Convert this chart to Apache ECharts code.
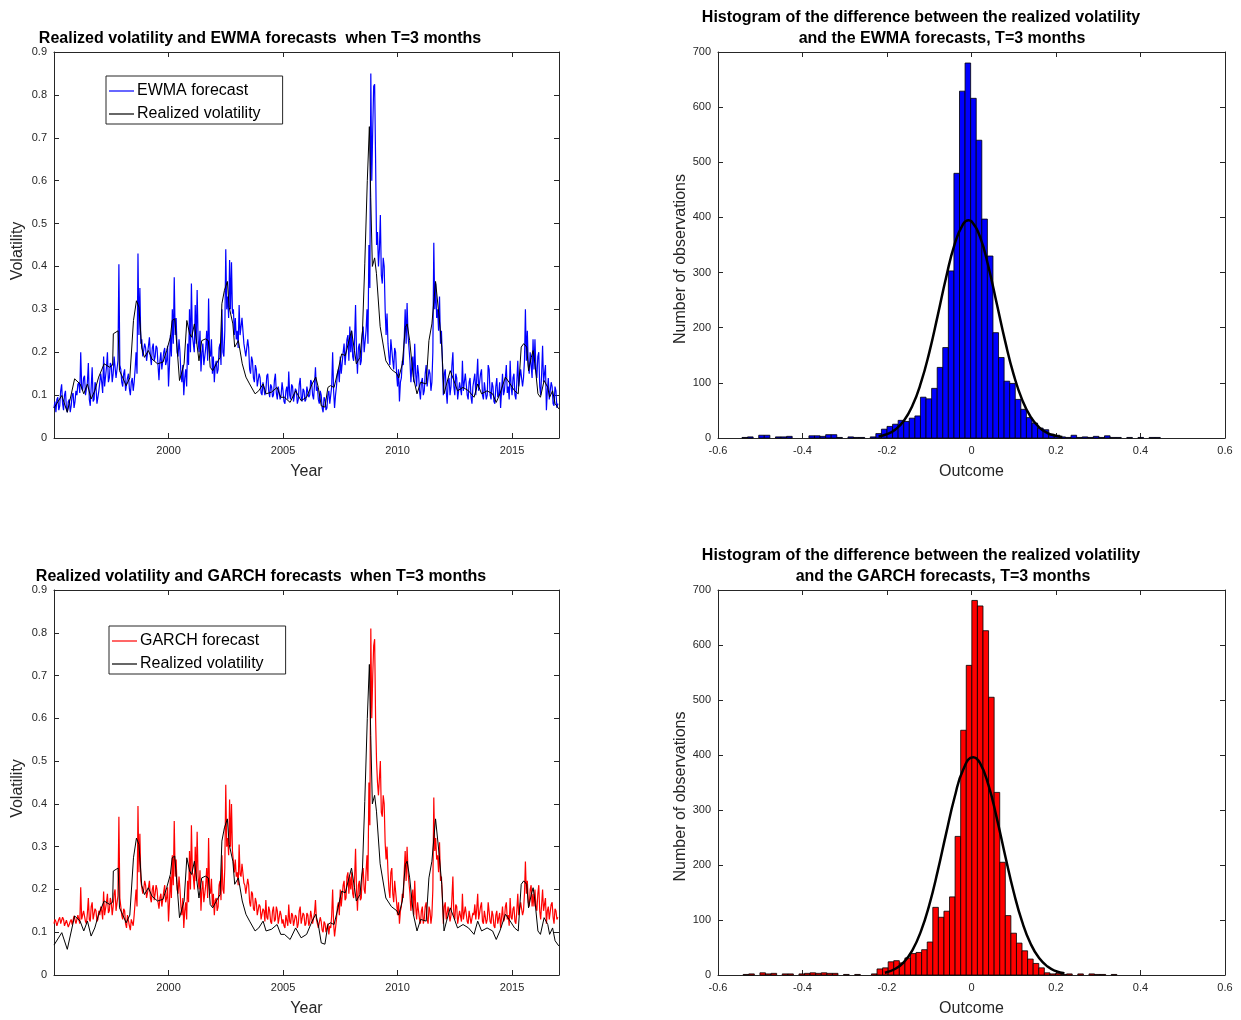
<!DOCTYPE html>
<html>
<head>
<meta charset="utf-8">
<script src="https://cdn.jsdelivr.net/npm/echarts@6/dist/echarts.min.js"></script>
<style>
  html, body { margin: 0; padding: 0; background: #ffffff; }
  #chart { width: 1241px; height: 1020px; }
</style>
</head>
<body>
<div id="chart"></div>
<script>
// ---------------------------------------------------------------------------
// Volatility series (annualised)
// ---------------------------------------------------------------------------
const START_YEAR = 1995;
const SAMPLES_PER_YEAR = 24;          // forecasts are sampled twice a month
const yearTicks = [2000, 2005, 2010, 2015];

// Realized volatility over the following three months: [year, value]
const realizedVol = [
  [1995.00,0.070],[1995.34,0.099],[1995.58,0.060],[1995.90,0.138],[1996.14,0.126],[1996.30,0.103],
  [1996.46,0.126],[1996.62,0.091],[1996.78,0.110],[1996.95,0.142],[1997.19,0.173],[1997.43,0.165],
  [1997.56,0.170],[1997.59,0.243],[1997.80,0.250],[1997.86,0.157],[1997.99,0.142],[1998.15,0.122],
  [1998.31,0.140],[1998.47,0.274],[1998.60,0.320],[1998.71,0.305],[1998.83,0.210],[1998.95,0.188],
  [1999.12,0.204],[1999.28,0.184],[1999.52,0.173],[1999.76,0.177],[1999.92,0.204],[2000.08,0.235],
  [2000.16,0.274],[2000.27,0.278],[2000.37,0.212],[2000.48,0.134],[2000.56,0.130],[2000.68,0.173],
  [2000.80,0.274],[2000.92,0.243],[2001.01,0.235],[2001.13,0.266],[2001.21,0.262],[2001.33,0.180],
  [2001.45,0.227],[2001.61,0.231],[2001.74,0.227],[2001.82,0.165],[2001.93,0.157],[2002.09,0.173],
  [2002.25,0.188],[2002.33,0.313],[2002.44,0.344],[2002.57,0.365],[2002.65,0.305],[2002.81,0.266],
  [2002.89,0.212],[2003.05,0.227],[2003.22,0.173],[2003.38,0.142],[2003.54,0.126],[2003.78,0.103],
  [2003.94,0.110],[2004.13,0.126],[2004.26,0.103],[2004.50,0.107],[2004.74,0.118],[2004.90,0.095],
  [2005.06,0.095],[2005.31,0.083],[2005.55,0.110],[2005.79,0.087],[2006.03,0.095],[2006.27,0.126],
  [2006.43,0.142],[2006.54,0.118],[2006.67,0.075],[2006.83,0.072],[2006.96,0.118],[2007.07,0.122],
  [2007.23,0.118],[2007.40,0.157],[2007.56,0.196],[2007.72,0.192],[2007.88,0.227],[2007.99,0.250],
  [2008.12,0.204],[2008.20,0.173],[2008.36,0.188],[2008.47,0.250],[2008.57,0.406],[2008.68,0.600],
  [2008.77,0.726],[2008.83,0.560],[2008.90,0.400],[2009.00,0.420],[2009.08,0.383],[2009.24,0.260],
  [2009.49,0.180],[2009.73,0.160],[2009.97,0.150],[2010.05,0.140],[2010.21,0.173],[2010.34,0.258],
  [2010.42,0.266],[2010.53,0.227],[2010.69,0.142],[2010.85,0.103],[2011.01,0.130],[2011.25,0.126],
  [2011.37,0.227],[2011.50,0.266],[2011.66,0.365],[2011.82,0.280],[2011.93,0.212],[2012.03,0.103],
  [2012.14,0.126],[2012.30,0.157],[2012.46,0.134],[2012.62,0.110],[2012.86,0.118],[2013.10,0.110],
  [2013.34,0.095],[2013.50,0.126],[2013.67,0.103],[2013.91,0.110],[2014.15,0.103],[2014.31,0.083],
  [2014.47,0.103],[2014.71,0.142],[2014.87,0.130],[2015.11,0.110],[2015.27,0.103],[2015.40,0.212],
  [2015.51,0.220],[2015.64,0.212],[2015.72,0.157],[2015.84,0.188],[2015.92,0.204],[2016.00,0.173],
  [2016.13,0.103],[2016.24,0.095],[2016.40,0.134],[2016.56,0.118],[2016.64,0.095],[2016.77,0.110],
  [2016.88,0.080],[2017.04,0.068]
];

// EWMA volatility forecast, two values per month
const ewmaForecast = [
  0.070,0.085, 0.060,0.090, 0.095,0.065, 0.075,0.110, 0.125,0.080, 0.065,0.100, 0.110,0.070, 0.060,0.085, 0.090,0.060, 0.075,0.100, 0.105,0.070, 0.085,0.110, // 1995
  0.100,0.125, 0.130,0.105, 0.200,0.120, 0.110,0.140, 0.145,0.100, 0.100,0.130, 0.175,0.090, 0.075,0.120, 0.165,0.085, 0.090,0.130, 0.120,0.080, 0.080,0.110, // 1996
  0.110,0.150, 0.130,0.105, 0.190,0.120, 0.120,0.165, 0.200,0.130, 0.140,0.175, 0.170,0.130, 0.150,0.190, 0.190,0.140, 0.140,0.180, 0.405,0.170, 0.160,0.130, // 1997
  0.120,0.150, 0.160,0.110, 0.110,0.140, 0.150,0.115, 0.100,0.130, 0.140,0.110, 0.130,0.160, 0.200,0.150, 0.430,0.240, 0.350,0.220, 0.230,0.190, 0.190,0.220, // 1998
  0.210,0.180, 0.180,0.215, 0.235,0.190, 0.170,0.210, 0.220,0.180, 0.190,0.215, 0.210,0.170, 0.135,0.180, 0.200,0.160, 0.160,0.200, 0.210,0.170, 0.180,0.215, // 1999
  0.120,0.170, 0.240,0.190, 0.300,0.220, 0.375,0.240, 0.280,0.200, 0.190,0.230, 0.200,0.150, 0.130,0.170, 0.100,0.140, 0.160,0.120, 0.220,0.170, 0.300,0.200, // 2000
  0.360,0.240, 0.240,0.200, 0.310,0.220, 0.345,0.230, 0.200,0.250, 0.155,0.200, 0.220,0.170, 0.170,0.210, 0.250,0.180, 0.325,0.200, 0.190,0.230, 0.150,0.190, // 2001
  0.130,0.170, 0.180,0.150, 0.160,0.210, 0.220,0.170, 0.300,0.200, 0.190,0.250, 0.440,0.300, 0.330,0.280, 0.415,0.300, 0.410,0.290, 0.300,0.240, 0.280,0.230, // 2002
  0.250,0.210, 0.310,0.240, 0.240,0.280, 0.280,0.220, 0.220,0.190, 0.190,0.230, 0.210,0.160, 0.150,0.190, 0.180,0.140, 0.130,0.170, 0.160,0.120, 0.120,0.150, // 2003
  0.140,0.105, 0.100,0.130, 0.130,0.100, 0.110,0.145, 0.150,0.110, 0.095,0.125, 0.120,0.095, 0.100,0.135, 0.150,0.105, 0.090,0.120, 0.120,0.090, 0.100,0.130, // 2004
  0.110,0.085, 0.080,0.110, 0.120,0.090, 0.155,0.100, 0.090,0.125, 0.120,0.085, 0.085,0.115, 0.110,0.080, 0.090,0.125, 0.140,0.095, 0.085,0.115, 0.110,0.085, // 2005
  0.090,0.120, 0.120,0.095, 0.100,0.135, 0.130,0.100, 0.090,0.125, 0.165,0.110, 0.120,0.090, 0.080,0.110, 0.100,0.070, 0.060,0.095, 0.090,0.065, 0.070,0.100, // 2006
  0.110,0.080, 0.080,0.120, 0.200,0.110, 0.070,0.100, 0.120,0.150, 0.160,0.130, 0.190,0.150, 0.150,0.200, 0.220,0.170, 0.170,0.230, 0.240,0.180, 0.260,0.200, // 2007
  0.250,0.190, 0.180,0.230, 0.310,0.200, 0.150,0.210, 0.220,0.170, 0.180,0.240, 0.260,0.200, 0.200,0.250, 0.300,0.220, 0.450,0.350, 0.850,0.600, 0.720,0.820, // 2008
  0.825,0.650, 0.450,0.480, 0.400,0.440, 0.520,0.380, 0.360,0.420, 0.400,0.300, 0.240,0.290, 0.220,0.190, 0.170,0.230, 0.230,0.180, 0.160,0.210, 0.200,0.150, // 2009
  0.120,0.160, 0.085,0.130, 0.140,0.180, 0.170,0.230, 0.300,0.220, 0.315,0.240, 0.240,0.180, 0.130,0.170, 0.190,0.130, 0.220,0.150, 0.120,0.170, 0.150,0.110, // 2010
  0.090,0.130, 0.140,0.100, 0.110,0.150, 0.170,0.120, 0.120,0.160, 0.150,0.110, 0.130,0.200, 0.455,0.300, 0.360,0.280, 0.300,0.250, 0.330,0.220, 0.250,0.180, // 2011
  0.100,0.150, 0.160,0.110, 0.080,0.130, 0.140,0.100, 0.120,0.170, 0.200,0.120, 0.100,0.150, 0.140,0.090, 0.090,0.130, 0.130,0.100, 0.180,0.110, 0.110,0.150, // 2012
  0.150,0.100, 0.090,0.130, 0.140,0.095, 0.080,0.120, 0.120,0.150, 0.100,0.140, 0.185,0.110, 0.110,0.150, 0.160,0.100, 0.090,0.130, 0.130,0.090, 0.100,0.170, // 2013
  0.160,0.100, 0.090,0.130, 0.120,0.085, 0.080,0.120, 0.140,0.095, 0.100,0.130, 0.070,0.110, 0.150,0.100, 0.110,0.140, 0.170,0.105, 0.120,0.090, 0.180,0.120, // 2014
  0.100,0.140, 0.150,0.100, 0.090,0.130, 0.180,0.120, 0.120,0.160, 0.160,0.120, 0.140,0.180, 0.300,0.180, 0.250,0.170, 0.150,0.200, 0.200,0.140, 0.230,0.160, // 2015
  0.230,0.160, 0.140,0.190, 0.200,0.120, 0.100,0.150, 0.215,0.130, 0.130,0.170, 0.065,0.110, 0.140,0.090, 0.090,0.130, 0.120,0.080, 0.075,0.120, 0.110,0.070, // 2016
  0.080                                                                                                                                                       // 2017
];

// GARCH volatility forecast, two values per month
const garchForecast = [
  0.120,0.130, 0.125,0.115, 0.115,0.130, 0.135,0.120, 0.120,0.135, 0.130,0.115, 0.115,0.128, 0.125,0.112, 0.110,0.125, 0.130,0.118, 0.120,0.138, 0.140,0.120, // 1995
  0.120,0.140, 0.140,0.120, 0.205,0.130, 0.130,0.150, 0.150,0.125, 0.120,0.145, 0.180,0.130, 0.125,0.160, 0.170,0.130, 0.130,0.155, 0.150,0.125, 0.130,0.150, // 1996
  0.140,0.160, 0.150,0.130, 0.195,0.140, 0.140,0.170, 0.190,0.145, 0.150,0.180, 0.170,0.140, 0.160,0.190, 0.200,0.150, 0.150,0.185, 0.370,0.180, 0.160,0.140, // 1997
  0.130,0.155, 0.150,0.120, 0.110,0.140, 0.140,0.115, 0.105,0.130, 0.130,0.115, 0.140,0.170, 0.200,0.160, 0.395,0.240, 0.330,0.220, 0.220,0.190, 0.200,0.220, // 1998
  0.210,0.180, 0.180,0.205, 0.220,0.180, 0.170,0.200, 0.210,0.175, 0.190,0.210, 0.200,0.170, 0.155,0.180, 0.190,0.160, 0.160,0.195, 0.210,0.170, 0.180,0.205, // 1999
  0.125,0.170, 0.230,0.180, 0.280,0.210, 0.360,0.230, 0.270,0.200, 0.190,0.230, 0.200,0.160, 0.140,0.180, 0.110,0.150, 0.170,0.130, 0.220,0.170, 0.290,0.200, // 2000
  0.350,0.240, 0.230,0.200, 0.300,0.220, 0.335,0.230, 0.200,0.245, 0.150,0.200, 0.220,0.170, 0.170,0.210, 0.250,0.180, 0.320,0.200, 0.190,0.225, 0.160,0.190, // 2001
  0.140,0.175, 0.180,0.150, 0.160,0.210, 0.220,0.175, 0.280,0.200, 0.190,0.250, 0.445,0.300, 0.320,0.280, 0.410,0.300, 0.400,0.290, 0.290,0.240, 0.270,0.230, // 2002
  0.240,0.210, 0.305,0.235, 0.230,0.260, 0.260,0.215, 0.210,0.190, 0.190,0.225, 0.210,0.170, 0.160,0.195, 0.190,0.155, 0.150,0.180, 0.170,0.140, 0.140,0.165, // 2003
  0.160,0.130, 0.130,0.155, 0.150,0.125, 0.175,0.135, 0.130,0.160, 0.150,0.125, 0.120,0.150, 0.160,0.125, 0.130,0.160, 0.150,0.120, 0.120,0.150, 0.140,0.120, // 2004
  0.130,0.115, 0.110,0.140, 0.140,0.115, 0.165,0.125, 0.120,0.145, 0.140,0.115, 0.115,0.140, 0.135,0.110, 0.120,0.150, 0.160,0.120, 0.120,0.145, 0.140,0.115, // 2005
  0.120,0.145, 0.140,0.115, 0.125,0.150, 0.150,0.120, 0.120,0.145, 0.175,0.130, 0.130,0.110, 0.110,0.135, 0.125,0.105, 0.100,0.125, 0.120,0.100, 0.100,0.120, // 2006
  0.095,0.115, 0.110,0.140, 0.200,0.120, 0.090,0.110, 0.130,0.160, 0.170,0.140, 0.200,0.160, 0.160,0.210, 0.220,0.175, 0.180,0.230, 0.240,0.190, 0.230,0.200, // 2007
  0.240,0.190, 0.180,0.225, 0.295,0.200, 0.150,0.210, 0.220,0.175, 0.180,0.235, 0.250,0.200, 0.190,0.240, 0.280,0.220, 0.450,0.350, 0.810,0.600, 0.700,0.770, // 2008
  0.785,0.600, 0.500,0.450, 0.420,0.460, 0.500,0.380, 0.370,0.420, 0.400,0.310, 0.270,0.300, 0.240,0.200, 0.180,0.240, 0.250,0.190, 0.170,0.220, 0.220,0.170, // 2009
  0.140,0.170, 0.120,0.150, 0.160,0.190, 0.180,0.240, 0.290,0.220, 0.300,0.240, 0.240,0.190, 0.150,0.180, 0.200,0.140, 0.220,0.160, 0.130,0.170, 0.170,0.130, // 2010
  0.120,0.150, 0.160,0.120, 0.130,0.160, 0.170,0.130, 0.120,0.160, 0.150,0.120, 0.140,0.200, 0.415,0.290, 0.320,0.270, 0.280,0.240, 0.310,0.220, 0.230,0.180, // 2011
  0.120,0.160, 0.170,0.130, 0.130,0.160, 0.160,0.125, 0.140,0.180, 0.230,0.140, 0.130,0.165, 0.160,0.120, 0.120,0.150, 0.150,0.125, 0.190,0.130, 0.130,0.160, // 2012
  0.160,0.125, 0.120,0.150, 0.150,0.120, 0.120,0.145, 0.140,0.165, 0.130,0.155, 0.190,0.130, 0.130,0.160, 0.170,0.125, 0.120,0.150, 0.150,0.120, 0.130,0.170, // 2013
  0.170,0.125, 0.120,0.150, 0.140,0.115, 0.110,0.140, 0.150,0.120, 0.120,0.145, 0.110,0.135, 0.160,0.125, 0.130,0.160, 0.170,0.130, 0.140,0.115, 0.180,0.135, // 2014
  0.130,0.155, 0.160,0.125, 0.120,0.150, 0.190,0.140, 0.140,0.170, 0.170,0.140, 0.150,0.190, 0.265,0.190, 0.220,0.170, 0.160,0.200, 0.210,0.160, 0.190,0.160, // 2015
  0.200,0.160, 0.150,0.190, 0.210,0.150, 0.130,0.165, 0.200,0.150, 0.150,0.180, 0.120,0.150, 0.160,0.130, 0.130,0.165, 0.170,0.135, 0.120,0.155, 0.150,0.130, // 2016
  0.135                                                                                                                                                       // 2017
];

// ---------------------------------------------------------------------------
// Histograms of (realized - forecast): equal-width bins
// ---------------------------------------------------------------------------
const BIN_WIDTH = 0.0132;
const ewmaBinStart = -0.5432;
const ewmaCounts = [
  1,2,0,5,5,0,2,2,3,0,
  0,0,4,4,3,6,6,1,0,2,
  1,1,0,2,8,16,21,25,32,30,
  36,40,74,71,90,128,164,303,480,629,
  680,616,540,397,330,191,146,103,99,70,
  52,37,27,18,15,7,5,2,1,5,
  1,2,1,3,1,4,1,1,0,1,
  0,1,0,1,1
];
const garchBinStart = -0.5404;
const garchCounts = [
  1,2,0,4,2,3,0,2,2,0,
  2,3,4,3,4,3,3,0,1,0,
  1,0,0,2,11,13,24,26,22,31,
  39,41,46,60,123,105,116,142,252,445,
  563,681,671,626,505,332,205,108,76,58,
  44,29,21,13,4,2,3,1,2,0,
  2,0,2,1,1,0,1
];

// Fitted normal curves drawn over the histograms: [outcome, count]
const ewmaFit = [
  [-0.22,2.9],[-0.20,7.0],[-0.18,15.6],[-0.16,31.4],[-0.14,58.3],[-0.12,99.3],[-0.10,154.9],
  [-0.08,221.9],[-0.06,291.5],[-0.04,351.1],[-0.02,387.8],[-0.007,395],[0.00,392.9],[0.02,365.1],
  [0.04,311.1],[0.06,243.1],[0.08,174.3],[0.10,114.5],[0.12,69.1],[0.14,38.2],[0.16,19.4],
  [0.18,9.0],[0.20,3.8],[0.215,1.9]
];
const garchFit = [
  [-0.205,4.0],[-0.18,11.3],[-0.16,23.5],[-0.14,44.9],[-0.12,78.8],[-0.10,127.2],[-0.08,188.8],
  [-0.06,257.5],[-0.04,323.1],[-0.02,372.8],[0.004,396],[0.02,385.5],[0.04,345.6],[0.06,284.8],
  [0.08,215.9],[0.10,150.4],[0.12,96.4],[0.14,56.8],[0.16,30.7],[0.18,15.3],[0.20,7.0],[0.22,3.0]
];

// ---------------------------------------------------------------------------
// Helpers
// ---------------------------------------------------------------------------
const FONT = '"Liberation Sans", Arial, Helvetica, sans-serif';
const AXIS_COLOR = '#262626';

function sampled(values) {
  return values.map((v, i) => [START_YEAR + i / SAMPLES_PER_YEAR, v]);
}

function bins(start, counts) {
  const out = [];
  counts.forEach((c, i) => {
    if (c > 0) out.push([start + i * BIN_WIDTH, start + (i + 1) * BIN_WIDTH, c]);
  });
  return out;
}

function histRender(color) {
  return function (params, api) {
    const p0 = api.coord([api.value(0), api.value(2)]);
    const p1 = api.coord([api.value(1), 0]);
    return {
      type: 'rect',
      shape: { x: p0[0], y: p0[1], width: p1[0] - p0[0], height: p1[1] - p0[1] },
      style: { fill: color, stroke: '#000000', lineWidth: 0.8 }
    };
  };
}

const tickLabel = { fontSize: 11, color: AXIS_COLOR, fontFamily: FONT };
const axisLine = { show: true, onZero: false, lineStyle: { color: AXIS_COLOR, width: 1 } };

function nameStyle(shift) {
  // right padding moves a rotated name further down along the axis
  return { fontSize: 16, color: AXIS_COLOR, fontFamily: FONT, padding: [0, shift || 0, 0, 0] };
}

function xAxesTime(gi) {
  const base = { type: 'value', gridIndex: gi, min: 1995, max: 2017.05, splitLine: { show: false }, axisLine: axisLine };
  return [
    Object.assign({}, base, {
      position: 'bottom', name: 'Year', nameLocation: 'middle', nameGap: 26, nameTextStyle: nameStyle(0),
      axisTick: { inside: true, length: 5, customValues: yearTicks, lineStyle: { color: AXIS_COLOR } },
      axisLabel: Object.assign({ customValues: yearTicks, margin: 7, formatter: v => String(v) }, tickLabel)
    }),
    Object.assign({}, base, {
      position: 'top',
      axisTick: { inside: true, length: 5, customValues: yearTicks, lineStyle: { color: AXIS_COLOR } },
      axisLabel: { show: false }
    })
  ];
}

function xAxesHist(gi) {
  const base = { type: 'value', gridIndex: gi, min: -0.6, max: 0.6, interval: 0.2, splitLine: { show: false }, axisLine: axisLine,
    axisTick: { inside: true, length: 5, lineStyle: { color: AXIS_COLOR } } };
  return [
    Object.assign({}, base, {
      position: 'bottom', name: 'Outcome', nameLocation: 'middle', nameGap: 26, nameTextStyle: nameStyle(0),
      axisLabel: Object.assign({ margin: 7 }, tickLabel)
    }),
    Object.assign({}, base, { position: 'top', axisLabel: { show: false } })
  ];
}

function yAxes(gi, max, interval, name, shift) {
  const base = { type: 'value', gridIndex: gi, min: 0, max: max, interval: interval, splitLine: { show: false }, axisLine: axisLine,
    axisTick: { inside: true, length: 5, lineStyle: { color: AXIS_COLOR } } };
  return [
    Object.assign({}, base, {
      position: 'left', name: name, nameLocation: 'middle', nameGap: 28, nameTextStyle: nameStyle(shift),
      axisLabel: Object.assign({ margin: 7 }, tickLabel)
    }),
    Object.assign({}, base, { position: 'right', axisLabel: { show: false } })
  ];
}

function lineSeries(name, data, color, xi, yi, width, z) {
  return {
    type: 'line', name: name, data: data, xAxisIndex: xi, yAxisIndex: yi,
    symbol: 'none', smooth: false, z: z, animation: false,
    lineStyle: { color: color, width: width }, itemStyle: { color: color }
  };
}

function legendBox(left, top, names) {
  return {
    data: names, orient: 'vertical', left: left, top: top,
    borderColor: AXIS_COLOR, borderWidth: 1, backgroundColor: '#ffffff',
    padding: [6, 22, 1, 3], itemGap: 5, itemWidth: 25, itemHeight: 1.2, icon: 'rect',
    textStyle: { fontSize: 16, lineHeight: 18, color: '#000000', fontFamily: FONT, padding: [0, 0, 0, -2] },
    selectedMode: false
  };
}

function titleText(text, x, y) {
  return {
    type: 'text', x: x, y: y, silent: true,
    style: { text: text, font: 'bold 16px ' + FONT, fill: '#000000', align: 'center', verticalAlign: 'middle' }
  };
}

// ---------------------------------------------------------------------------
// Chart
// ---------------------------------------------------------------------------
const chart = echarts.init(document.getElementById('chart'), null, { renderer: 'canvas' });

const option = {
  backgroundColor: '#ffffff',
  animation: false,
  grid: [
    { left: 54, top: 52, width: 505, height: 386 },
    { left: 718, top: 52, width: 507, height: 386 },
    { left: 54, top: 590, width: 505, height: 385 },
    { left: 718, top: 590, width: 507, height: 385 }
  ],
  xAxis: [].concat(xAxesTime(0), xAxesHist(1), xAxesTime(2), xAxesHist(3)),
  yAxis: [].concat(
    yAxes(0, 0.9, 0.1, 'Volatility', 12),
    yAxes(1, 700, 100, 'Number of observations', 28),
    yAxes(2, 0.9, 0.1, 'Volatility', 12),
    yAxes(3, 700, 100, 'Number of observations', 28)
  ),
  legend: [
    legendBox(106, 76, ['EWMA forecast', 'Realized volatility']),
    legendBox(109, 626, ['GARCH forecast', 'Realized volatility'])
  ],
  graphic: [
    titleText('Realized volatility and EWMA forecasts  when T=3 months', 260, 39),
    titleText('Histogram of the difference between the realized volatility', 921, 18),
    titleText('and the EWMA forecasts, T=3 months', 942, 39),
    titleText('Realized volatility and GARCH forecasts  when T=3 months', 261, 577),
    titleText('Histogram of the difference between the realized volatility', 921, 556),
    titleText('and the GARCH forecasts, T=3 months', 943, 577)
  ],
  series: [
    lineSeries('EWMA forecast', sampled(ewmaForecast), '#0000ff', 0, 0, 1.2, 2),
    lineSeries('Realized volatility', realizedVol, '#000000', 0, 0, 1, 3),
    {
      type: 'custom', name: 'EWMA errors', xAxisIndex: 2, yAxisIndex: 2, z: 2,
      renderItem: histRender('#0000ff'), encode: { x: [0, 1], y: 2 },
      data: bins(ewmaBinStart, ewmaCounts)
    },
    Object.assign(lineSeries('EWMA normal fit', ewmaFit, '#000000', 2, 2, 2.5, 4), { smooth: true }),
    lineSeries('GARCH forecast', sampled(garchForecast), '#ff0000', 4, 4, 1.2, 2),
    lineSeries('Realized volatility', realizedVol, '#000000', 4, 4, 1, 3),
    {
      type: 'custom', name: 'GARCH errors', xAxisIndex: 6, yAxisIndex: 6, z: 2,
      renderItem: histRender('#ff0000'), encode: { x: [0, 1], y: 2 },
      data: bins(garchBinStart, garchCounts)
    },
    Object.assign(lineSeries('GARCH normal fit', garchFit, '#000000', 6, 6, 2.5, 4), { smooth: true })
  ]
};

chart.setOption(option);
</script>
</body>
</html>
